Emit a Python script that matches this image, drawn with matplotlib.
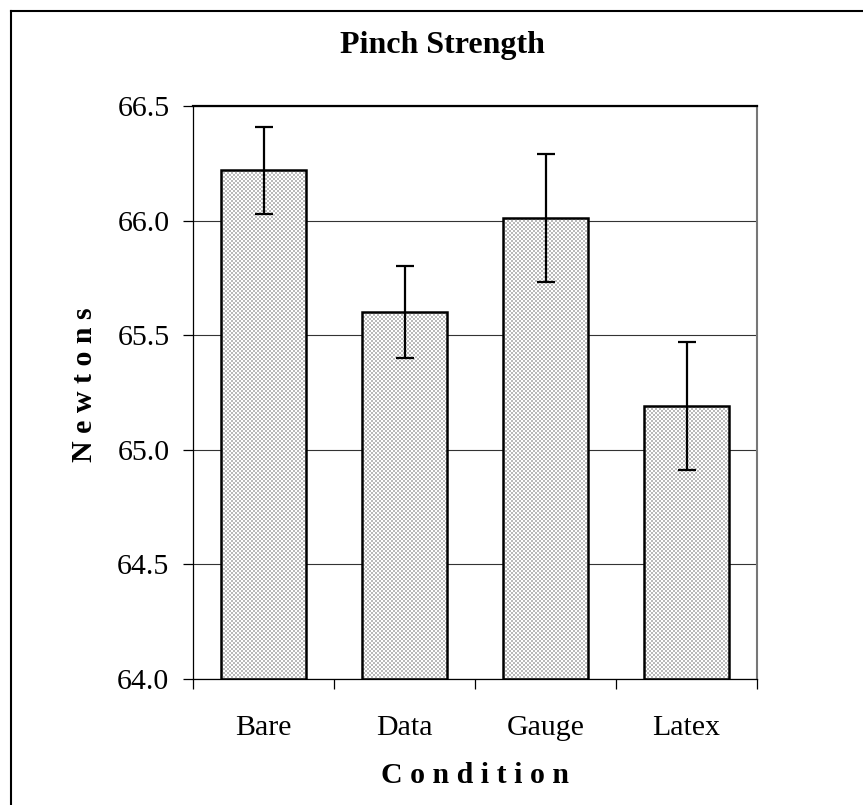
import numpy as np
import matplotlib
matplotlib.use("Agg")
import matplotlib.pyplot as plt
from matplotlib.lines import Line2D

# Pinch strength by glove condition (mean with error bars)
conditions = ["Bare", "Data", "Gauge", "Latex"]
means = [66.22, 65.60, 66.01, 65.19]
errors = [0.19, 0.20, 0.28, 0.28]
y_ticks = [64.0, 64.5, 65.0, 65.5, 66.0, 66.5]

plt.rcParams["font.family"] = ["Liberation Serif", "DejaVu Serif"]

W, H = 863, 805
fig = plt.figure(figsize=(W / 100, H / 100), dpi=100)

# Outer chart frame (top and left edges; the rest runs past the canvas)
fx, fy = 10.5 / W, (H - 11.5) / H
fig.lines.append(Line2D([fx, 1.2], [fy, fy], transform=fig.transFigure,
                        color="black", linewidth=1.5))
fig.lines.append(Line2D([fx, fx], [fy, -0.2], transform=fig.transFigure,
                        color="black", linewidth=1.5))

# Pixel-aligned plot area
ax_l, ax_r, ax_t, ax_b = 193, 757, 106, 679
ax = fig.add_axes([ax_l / W, (H - ax_b) / H, (ax_r - ax_l) / W, (ax_b - ax_t) / H])

ymin, ymax = y_ticks[0], y_ticks[-1]
ax.set_ylim(ymin, ymax)
ax.set_xlim(-0.5, len(conditions) - 0.5)

# Horizontal gridlines
ax.set_axisbelow(True)
ax.yaxis.grid(True, color="#333333", linewidth=0.8)

x = np.arange(len(conditions))
bars = ax.bar(x, [m - ymin for m in means], bottom=ymin, width=0.6,
              facecolor="none", edgecolor="black", linewidth=1.8, zorder=3)

# Fine checker texture (2-pixel cells) clipped to each bar
pw, ph = ax_r - ax_l, ax_b - ax_t
ii, jj = np.meshgrid(np.arange(ph) // 2, np.arange(pw) // 2, indexing="ij")
cells = ((ii + jj) % 2).astype(float)
for b in bars:
    im = ax.imshow(cells, cmap=matplotlib.colors.ListedColormap(["#bababa", "#ffffff"]),
                   extent=(-0.5, len(conditions) - 0.5, ymin, ymax), aspect="auto",
                   interpolation="nearest", zorder=2)
    im.set_clip_path(b)

ax.errorbar(x, means, yerr=errors, fmt="none", ecolor="black", elinewidth=1.6,
            capsize=6.5, capthick=1.6, zorder=4)

ax.set_yticks(y_ticks)
ax.set_yticklabels([f"{v:.1f}" for v in y_ticks])
ax.set_xticks(np.arange(len(conditions) + 1) - 0.5, minor=False)
ax.set_xticklabels([])
ax.set_xticks(x, minor=True)
ax.set_xticklabels(conditions, minor=True)
ax.tick_params(axis="x", which="major", direction="out", length=7, width=0.9, color="black")
ax.tick_params(axis="x", which="minor", length=0, pad=26, labelsize=21.5)
ax.tick_params(axis="y", direction="out", length=7, width=0.9, pad=10, labelsize=21.5)

ax.spines["top"].set_linewidth(1.6)
ax.spines["top"].set_color("black")
ax.spines["right"].set_color("#777777")
ax.spines["right"].set_linewidth(1.5)
ax.spines["left"].set_linewidth(0.9)
ax.spines["bottom"].set_linewidth(0.9)

fig.text(442 / W, (H - 53) / H, "Pinch Strength", ha="center", va="baseline",
         fontsize=23, fontweight="bold")
fig.text(475 / W, (H - 783) / H, "C o n d i t i o n", ha="center", va="baseline",
         fontsize=21.5, fontweight="bold")
fig.text(84 / W, (H - 385) / H, "N e w t o n s", ha="center", va="center",
         rotation=90, fontsize=21.5, fontweight="bold")

fig.savefig("out.png", dpi=100)
